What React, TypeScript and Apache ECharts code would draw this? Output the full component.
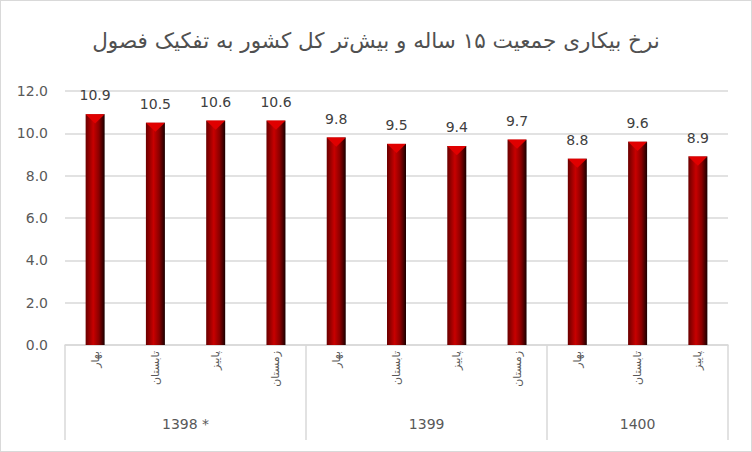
import { useEffect, useRef } from 'react';
import * as echarts from 'echarts';

const chartTitle = 'نرخ بیکاری جمعیت ۱۵ ساله و بیش‌تر کل کشور به تفکیک فصول';
const seasons = ['بهار', 'تابستان', 'پاییز', 'زمستان', 'بهار', 'تابستان', 'پاییز', 'زمستان', 'بهار', 'تابستان', 'پاییز'];
const rates = [10.9, 10.5, 10.6, 10.6, 9.8, 9.5, 9.4, 9.7, 8.8, 9.6, 8.9];
const years = ['1398 *', '1399', '1400'];
const yearCounts = [4, 4, 3];
const yTicks = [0, 2, 4, 6, 8, 10, 12];

const TEXT = '#595959';
const GRID = '#d9d9d9';
const FONT = 'DejaVu Sans';

// group start indices / centers derived from yearCounts
const groupStarts: number[] = [];
const groupCenters: Record<string, string> = {};
yearCounts.reduce((start, count, i) => {
  groupStarts.push(start);
  groupCenters[String(start + (count - 1) / 2)] = years[i];
  return start + count;
}, 0);

export default function App() {
  const chartRef = useRef<HTMLDivElement>(null);

  useEffect(() => {
    if (!chartRef.current) return;
    const chart = echarts.init(chartRef.current, null, { renderer: 'svg' });

    const barColor = new echarts.graphic.LinearGradient(0, 0, 1, 0, [
      { offset: 0, color: '#6a0000' },
      { offset: 0.4, color: '#c80000' },
      { offset: 0.7, color: '#8a0000' },
      { offset: 1, color: '#1a0000' }
    ]);

    chart.setOption({
      animation: false,
      title: {
        text: chartTitle,
        left: 'center',
        top: 24,
        textStyle: { fontFamily: FONT, fontSize: 21.5, fontWeight: 'normal', color: '#505050' }
      },
      grid: { left: 65, right: 24, top: 91, bottom: 107 },
      xAxis: [
        {
          type: 'category',
          data: seasons,
          axisLine: { lineStyle: { color: GRID, width: 1.5 } },
          axisTick: {
            show: true,
            length: 95,
            interval: (index: number) => groupStarts.includes(index),
            lineStyle: { color: GRID, width: 1.5 }
          },
          axisLabel: {
            interval: 0,
            rotate: 90,
            margin: 6,
            fontFamily: FONT,
            fontSize: 11,
            color: TEXT
          }
        },
        {
          type: 'value',
          position: 'bottom',
          min: -0.5,
          max: seasons.length - 0.5,
          interval: 0.5,
          axisLine: { show: false },
          axisTick: { show: false },
          splitLine: { show: false },
          axisLabel: {
            margin: 72,
            fontFamily: FONT,
            fontSize: 14,
            color: TEXT,
            formatter: (v: number) => groupCenters[String(v)] || ''
          }
        }
      ],
      yAxis: {
        type: 'value',
        min: yTicks[0],
        max: yTicks[yTicks.length - 1],
        interval: yTicks[1] - yTicks[0],
        axisLine: { show: false },
        axisTick: { show: false },
        splitLine: { lineStyle: { color: GRID, width: 1.5 } },
        axisLabel: {
          margin: 17,
          fontFamily: FONT,
          fontSize: 14,
          color: TEXT,
          formatter: (v: number) => v.toFixed(1)
        }
      },
      series: [
        {
          type: 'bar',
          xAxisIndex: 0,
          data: rates,
          barWidth: 19,
          itemStyle: { color: barColor },
          label: {
            show: true,
            position: 'top',
            distance: 12,
            fontFamily: FONT,
            fontSize: 14,
            color: '#404040',
            formatter: (p: any) => Number(p.value).toFixed(1)
          }
        },
        {
          type: 'pictorialBar',
          xAxisIndex: 0,
          data: rates,
          symbol: 'path://M0,0 L10,0 L5,5 Z',
          symbolSize: [19, 9],
          symbolPosition: 'end',
          itemStyle: { color: '#e00000' },
          z: 3,
          silent: true
        }
      ]
    });

    return () => chart.dispose();
  }, []);

  return (
    <div style={{ position: 'fixed', left: 0, top: 0, width: 752, height: 452, background: '#fff' }}>
      <div ref={chartRef} style={{ width: 752, height: 452 }} />
      <div
        style={{
          position: 'absolute',
          inset: 0,
          border: '1.5px solid #d9d9d9',
          pointerEvents: 'none'
        }}
      />
    </div>
  );
}
